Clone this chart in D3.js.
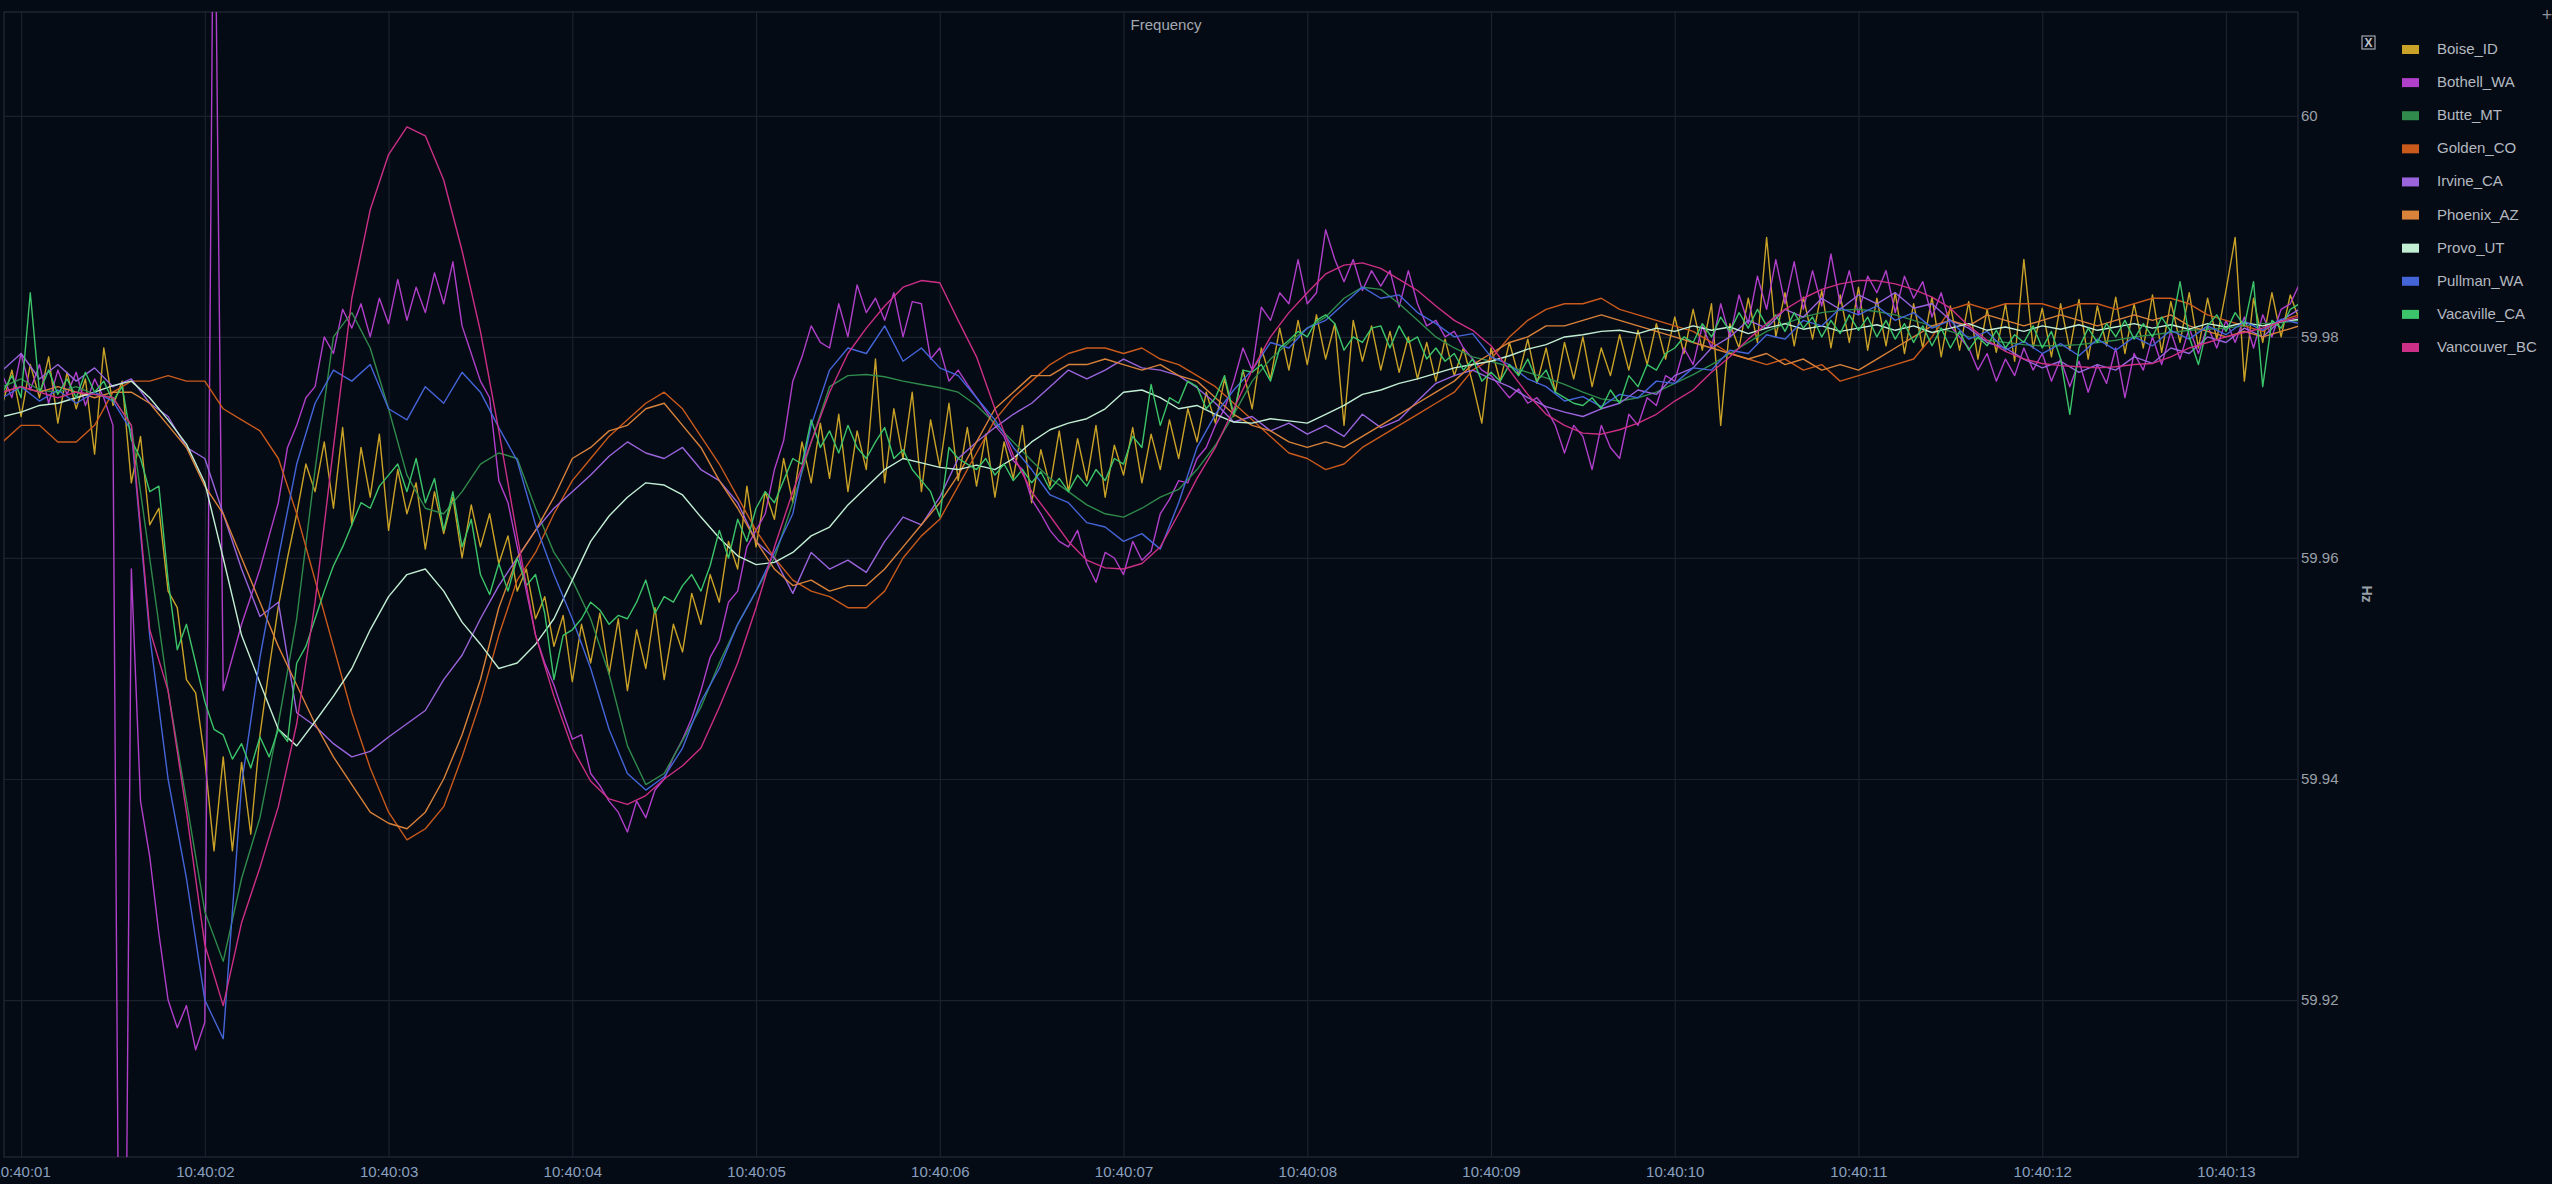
<!DOCTYPE html>
<html>
<head>
<meta charset="utf-8">
<title>Frequency</title>
<script src="https://cdn.jsdelivr.net/npm/d3@7"></script>
<style>
  html, body { margin: 0; padding: 0; background: #050b15; overflow: hidden; }
  svg { display: block; font-family: "Liberation Sans", Arial, sans-serif; }
</style>
</head>
<body>
<div id="chart"></div>
<script>
// seconds after 10:40:00 of the first sample, and the two sample spacings used
const startSec = 0.9
const coarseStep = 0.1
const fineStep = 0.05

const seriesNames = ['Boise_ID', 'Bothell_WA', 'Butte_MT', 'Golden_CO', 'Irvine_CA',
  'Phoenix_AZ', 'Provo_UT', 'Pullman_WA', 'Vacaville_CA', 'Vancouver_BC']
const seriesColors = ['#c9a227', '#b03fc9', '#2f8a4c', '#c95a1c', '#9a64dc',
  '#d9823a', '#c2efd4', '#4465d8', '#3cc46a', '#cc2f86']
const yTicks = [59.92, 59.94, 59.96, 59.98, 60]

// ---- 0.05 s samples ----
const boiseId = [
  59.9740, 59.9770, 59.9728, 59.9775, 59.9745, 59.9782, 59.9722, 59.9768, 59.9735, 59.9762,
  59.9694, 59.9790, 59.9738, 59.9760, 59.9668, 59.9710, 59.9630, 59.9645, 59.9570, 59.9555,
  59.9490, 59.9478, 59.9418, 59.9335, 59.9420, 59.9335, 59.9415, 59.9350, 59.9440, 59.9500,
  59.9556, 59.9600, 59.9640, 59.9685, 59.9660, 59.9705, 59.9645, 59.9718, 59.9630, 59.9700,
  59.9655, 59.9712, 59.9625, 59.9680, 59.9640, 59.9668, 59.9608, 59.9660, 59.9622, 59.9655,
  59.9600, 59.9648, 59.9610, 59.9640, 59.9595, 59.9620, 59.9570, 59.9590, 59.9545, 59.9565,
  59.9520, 59.9548, 59.9488, 59.9540, 59.9505, 59.9550, 59.9495, 59.9545, 59.9480, 59.9535,
  59.9500, 59.9555, 59.9490, 59.9540, 59.9515, 59.9568, 59.9540, 59.9585, 59.9560, 59.9615,
  59.9590, 59.9665, 59.9610, 59.9660, 59.9635, 59.9690, 59.9650, 59.9705, 59.9668, 59.9722,
  59.9672, 59.9730, 59.9660, 59.9715, 59.9680, 59.9780, 59.9668, 59.9735, 59.9690, 59.9750,
  59.9660, 59.9725, 59.9682, 59.9740, 59.9670, 59.9718, 59.9665, 59.9712, 59.9655, 59.9705,
  59.9672, 59.9720, 59.9650, 59.9698, 59.9665, 59.9715, 59.9660, 59.9708, 59.9670, 59.9720,
  59.9655, 59.9702, 59.9675, 59.9718, 59.9668, 59.9712, 59.9680, 59.9725, 59.9690, 59.9735,
  59.9705, 59.9750, 59.9722, 59.9762, 59.9728, 59.9770, 59.9735, 59.9790, 59.9762, 59.9808,
  59.9770, 59.9815, 59.9775, 59.9820, 59.9780, 59.9812, 59.9720, 59.9815, 59.9778, 59.9810,
  59.9770, 59.9805, 59.9768, 59.9800, 59.9762, 59.9795, 59.9760, 59.9798, 59.9765, 59.9790,
  59.9758, 59.9722, 59.9790, 59.9760, 59.9795, 59.9765, 59.9798, 59.9758, 59.9790, 59.9750,
  59.9795, 59.9762, 59.9800, 59.9755, 59.9790, 59.9765, 59.9802, 59.9770, 59.9806, 59.9775,
  59.9812, 59.9780, 59.9818, 59.9785, 59.9825, 59.9788, 59.9830, 59.9720, 59.9812, 59.9790,
  59.9835, 59.9795, 59.9890, 59.9800, 59.9840, 59.9792, 59.9836, 59.9798, 59.9842, 59.9790,
  59.9838, 59.9795, 59.9845, 59.9788, 59.9835, 59.9792, 59.9840, 59.9785, 59.9830, 59.9790,
  59.9836, 59.9782, 59.9828, 59.9788, 59.9832, 59.9780, 59.9825, 59.9786, 59.9830, 59.9778,
  59.9870, 59.9790, 59.9826, 59.9782, 59.9830, 59.9788, 59.9834, 59.9780, 59.9828, 59.9792,
  59.9836, 59.9785, 59.9830, 59.9790, 59.9838, 59.9786, 59.9832, 59.9795, 59.9840, 59.9790,
  59.9835, 59.9798, 59.9842, 59.9890, 59.9760, 59.9835, 59.9795, 59.9840, 59.9800, 59.9838,
  59.9815
]

const bothellWa = [
  59.9765, 59.9745, 59.9785, 59.9752, 59.9775, 59.9740, 59.9770, 59.9748, 59.9768, 59.9738,
  59.9762, 59.9745, 59.9720, 59.8500, 59.9590, 59.9380, 59.9330, 59.9260, 59.9200, 59.9175,
  59.9195, 59.9155, 59.9180, 60.0300, 59.9480, 59.9510, 59.9540, 59.9565, 59.9590, 59.9620,
  59.9650, 59.9700, 59.9720, 59.9745, 59.9755, 59.9800, 59.9785, 59.9825, 59.9808, 59.9830,
  59.9800, 59.9835, 59.9812, 59.9852, 59.9815, 59.9845, 59.9822, 59.9858, 59.9830, 59.9868,
  59.9810, 59.9785, 59.9760, 59.9745, 59.9670, 59.9650, 59.9610, 59.9570, 59.9530, 59.9505,
  59.9485, 59.9460, 59.9436, 59.9440, 59.9405, 59.9394, 59.9380, 59.9370, 59.9352, 59.9380,
  59.9365, 59.9390, 59.9400, 59.9420, 59.9436, 59.9455, 59.9480, 59.9510, 59.9525, 59.9560,
  59.9570, 59.9610, 59.9625, 59.9640, 59.9680, 59.9706, 59.9760, 59.9782, 59.9810, 59.9795,
  59.9790, 59.9830, 59.9800, 59.9847, 59.9822, 59.9835, 59.9815, 59.9840, 59.9800, 59.9832,
  59.9830, 59.9780, 59.9790, 59.9760, 59.9770, 59.9757, 59.9745, 59.9733, 59.9720, 59.9710,
  59.9688, 59.9680, 59.9653, 59.9640, 59.9625, 59.9615, 59.9610, 59.9625, 59.9595, 59.9578,
  59.9605, 59.9600, 59.9585, 59.9615, 59.9598, 59.9606, 59.9640, 59.9653, 59.9670, 59.9668,
  59.9690, 59.9700, 59.9720, 59.9735, 59.9760, 59.9790, 59.9770, 59.9827, 59.9815, 59.9840,
  59.9830, 59.9870, 59.9830, 59.9840, 59.9897, 59.9870, 59.9850, 59.9870, 59.9842, 59.9860,
  59.9846, 59.9860, 59.9827, 59.9860, 59.9830, 59.9810, 59.9815, 59.9800, 59.9805, 59.9790,
  59.9780, 59.9770, 59.9765, 59.9755, 59.9745, 59.9753, 59.9740, 59.9745, 59.9735, 59.9720,
  59.9695, 59.9720, 59.9710, 59.9680, 59.9720, 59.9700, 59.9690, 59.9730, 59.9720, 59.9745,
  59.9738, 59.9765, 59.9760, 59.9790, 59.9775, 59.9810, 59.9790, 59.9830, 59.9800, 59.9838,
  59.9812, 59.9855, 59.9825, 59.9870, 59.9830, 59.9868, 59.9825, 59.9860, 59.9828, 59.9875,
  59.9830, 59.9860, 59.9820, 59.9855, 59.9840, 59.9860, 59.9822, 59.9855, 59.9835, 59.9850,
  59.9818, 59.9840, 59.9810, 59.9800, 59.9790, 59.9770, 59.9785, 59.9760, 59.9780, 59.9765,
  59.9790, 59.9770, 59.9785, 59.9760, 59.9780, 59.9755, 59.9778, 59.9750, 59.9775, 59.9758,
  59.9790, 59.9745, 59.9785, 59.9770, 59.9800, 59.9775, 59.9805, 59.9780, 59.9808, 59.9785,
  59.9810, 59.9790, 59.9815, 59.9795, 59.9818, 59.9790, 59.9820, 59.9800, 59.9825, 59.9830,
  59.9848
]

const vacavilleCa = [
  59.9750, 59.9765, 59.9745, 59.9840, 59.9750, 59.9770, 59.9748, 59.9762, 59.9745, 59.9768,
  59.9750, 59.9760, 59.9742, 59.9755, 59.9707, 59.9690, 59.9660, 59.9665, 59.9580, 59.9517,
  59.9540, 59.9505, 59.9470, 59.9445, 59.9440, 59.9418, 59.9432, 59.9410, 59.9438, 59.9420,
  59.9445, 59.9434, 59.9505, 59.9520, 59.9545, 59.9570, 59.9593, 59.9610, 59.9630, 59.9650,
  59.9645, 59.9665, 59.9675, 59.9685, 59.9660, 59.9690, 59.9650, 59.9672, 59.9625, 59.9660,
  59.9610, 59.9635, 59.9585, 59.9567, 59.9595, 59.9570, 59.9600, 59.9575, 59.9585, 59.9550,
  59.9490, 59.9530, 59.9535, 59.9545, 59.9560, 59.9553, 59.9540, 59.9548, 59.9545, 59.9560,
  59.9580, 59.9550, 59.9565, 59.9560, 59.9575, 59.9585, 59.9570, 59.9593, 59.9625, 59.9600,
  59.9635, 59.9615, 59.9645, 59.9660, 59.9650, 59.9670, 59.9690, 59.9685, 59.9725, 59.9700,
  59.9715, 59.9695, 59.9720, 59.9700, 59.9690, 59.9705, 59.9718, 59.9690, 59.9698, 59.9680,
  59.9670, 59.9660, 59.9637, 59.9700, 59.9690, 59.9685, 59.9680, 59.9690, 59.9675, 59.9685,
  59.9670, 59.9680, 59.9668, 59.9678, 59.9662, 59.9672, 59.9660, 59.9675, 59.9665, 59.9680,
  59.9670, 59.9690, 59.9685, 59.9710, 59.9700, 59.9757, 59.9720, 59.9745, 59.9740, 59.9760,
  59.9755, 59.9735, 59.9745, 59.9765, 59.9730, 59.9770, 59.9768, 59.9775, 59.9760, 59.9790,
  59.9797, 59.9805, 59.9800, 59.9815, 59.9820, 59.9812, 59.9788, 59.9800, 59.9795, 59.9808,
  59.9810, 59.9790, 59.9810, 59.9795, 59.9800, 59.9780, 59.9790, 59.9778, 59.9785, 59.9770,
  59.9780, 59.9760, 59.9768, 59.9760, 59.9775, 59.9765, 59.9780, 59.9760, 59.9770, 59.9750,
  59.9745, 59.9740, 59.9738, 59.9745, 59.9735, 59.9752, 59.9740, 59.9765, 59.9755, 59.9775,
  59.9770, 59.9785, 59.9790, 59.9800, 59.9795, 59.9812, 59.9800, 59.9818, 59.9805, 59.9822,
  59.9808, 59.9825, 59.9810, 59.9820, 59.9805, 59.9822, 59.9808, 59.9818, 59.9800, 59.9815,
  59.9803, 59.9820, 59.9806, 59.9818, 59.9800, 59.9815, 59.9798, 59.9812, 59.9795, 59.9810,
  59.9792, 59.9808, 59.9790, 59.9805, 59.9788, 59.9800, 59.9792, 59.9806, 59.9790, 59.9802,
  59.9795, 59.9810, 59.9790, 59.9805, 59.9780, 59.9730, 59.9790, 59.9808, 59.9795, 59.9812,
  59.9800, 59.9815, 59.9798, 59.9812, 59.9800, 59.9818, 59.9805, 59.9850, 59.9800, 59.9775,
  59.9810, 59.9820, 59.9805, 59.9822, 59.9810, 59.9850, 59.9755, 59.9815, 59.9808, 59.9825,
  59.9830
]

// ---- 0.1 s samples ----
const butteMt = [
  59.9755, 59.9762, 59.9752, 59.9750, 59.9755, 59.9748, 59.9745, 59.9720, 59.9600, 59.9480,
  59.9380, 59.9280, 59.9235, 59.9310, 59.9365, 59.9450, 59.9545, 59.9680, 59.9800, 59.9822,
  59.9790, 59.9735, 59.9675, 59.9645, 59.9640, 59.9660, 59.9685, 59.9695, 59.9690, 59.9645,
  59.9605, 59.9580, 59.9545, 59.9495, 59.9430, 59.9395, 59.9405, 59.9435, 59.9465, 59.9505,
  59.9540, 59.9570, 59.9600, 59.9650, 59.9705, 59.9755, 59.9765, 59.9766, 59.9764, 59.9760,
  59.9757, 59.9754, 59.9750, 59.9738, 59.9722, 59.9705, 59.9688, 59.9672, 59.9660, 59.9648,
  59.9640, 59.9637, 59.9645, 59.9655, 59.9662, 59.9680, 59.9702, 59.9730, 59.9760, 59.9780,
  59.9795, 59.9808, 59.9818, 59.9835, 59.9845, 59.9843, 59.9830, 59.9815, 59.9800, 59.9790,
  59.9782, 59.9778, 59.9773, 59.9768, 59.9763, 59.9757, 59.9750, 59.9744, 59.9742, 59.9745,
  59.9750, 59.9758, 59.9766, 59.9775, 59.9785, 59.9795, 59.9805, 59.9812, 59.9818, 59.9822,
  59.9824, 59.9825, 59.9823, 59.9820, 59.9815, 59.9810, 59.9805, 59.9800, 59.9797, 59.9795,
  59.9793, 59.9792, 59.9792, 59.9793, 59.9795, 59.9797, 59.9800, 59.9802, 59.9804, 59.9806,
  59.9807, 59.9808, 59.9810, 59.9812, 59.9813, 59.9815
]

const goldenCo = [
  59.9705, 59.9720, 59.9720, 59.9705, 59.9705, 59.9720, 59.9750, 59.9760, 59.9760, 59.9765,
  59.9760, 59.9760, 59.9735, 59.9725, 59.9715, 59.9690, 59.9640, 59.9580, 59.9520, 59.9460,
  59.9410, 59.9370, 59.9345, 59.9355, 59.9375, 59.9420, 59.9470, 59.9530, 59.9580, 59.9605,
  59.9640, 59.9670, 59.9690, 59.9710, 59.9725, 59.9740, 59.9750, 59.9735, 59.9710, 59.9685,
  59.9655, 59.9625, 59.9600, 59.9580, 59.9570, 59.9565, 59.9555, 59.9555, 59.9570, 59.9600,
  59.9620, 59.9635, 59.9665, 59.9695, 59.9725, 59.9745, 59.9760, 59.9775, 59.9785, 59.9790,
  59.9790, 59.9785, 59.9790, 59.9780, 59.9775, 59.9765, 59.9755, 59.9740, 59.9725, 59.9710,
  59.9695, 59.9690, 59.9680, 59.9685, 59.9700, 59.9710, 59.9720, 59.9730, 59.9740, 59.9750,
  59.9770, 59.9780, 59.9800, 59.9815, 59.9825, 59.9830, 59.9830, 59.9835, 59.9825, 59.9820,
  59.9815, 59.9810, 59.9805, 59.9795, 59.9785, 59.9780, 59.9775, 59.9780, 59.9770, 59.9775,
  59.9760, 59.9765, 59.9770, 59.9775, 59.9780, 59.9800, 59.9825, 59.9830, 59.9825, 59.9830,
  59.9830, 59.9830, 59.9825, 59.9830, 59.9830, 59.9825, 59.9830, 59.9835, 59.9835, 59.9830,
  59.9820, 59.9815, 59.9810, 59.9805, 59.9815, 59.9820
]

const irvineCa = [
  59.9770, 59.9785, 59.9762, 59.9775, 59.9760, 59.9772, 59.9755, 59.9762, 59.9740, 59.9728,
  59.9700, 59.9690, 59.9640, 59.9590, 59.9547, 59.9560, 59.9460, 59.9448, 59.9432, 59.9420,
  59.9425, 59.9438, 59.9450, 59.9462, 59.9490, 59.9512, 59.9545, 59.9575, 59.9600, 59.9625,
  59.9645, 59.9660, 59.9675, 59.9692, 59.9705, 59.9695, 59.9690, 59.9700, 59.9680, 59.9670,
  59.9650, 59.9615, 59.9600, 59.9568, 59.9605, 59.9590, 59.9598, 59.9587, 59.9615, 59.9637,
  59.9630, 59.9655, 59.9690, 59.9705, 59.9718, 59.9730, 59.9740, 59.9755, 59.9770, 59.9762,
  59.9770, 59.9780, 59.9772, 59.9770, 59.9765, 59.9754, 59.9740, 59.9723, 59.9728, 59.9715,
  59.9722, 59.9712, 59.9720, 59.9710, 59.9730, 59.9718, 59.9725, 59.9742, 59.9758, 59.9765,
  59.9770, 59.9762, 59.9755, 59.9745, 59.9737, 59.9732, 59.9728, 59.9735, 59.9740, 59.9752,
  59.9748, 59.9765, 59.9772, 59.9790, 59.9800, 59.9815, 59.9808, 59.9825, 59.9818, 59.9835,
  59.9825, 59.9838, 59.9830, 59.9840, 59.9826, 59.9830, 59.9815, 59.9808, 59.9795, 59.9790,
  59.9780, 59.9772, 59.9778, 59.9768, 59.9775, 59.9770, 59.9782, 59.9776, 59.9790, 59.9785,
  59.9800, 59.9795, 59.9808, 59.9800, 59.9815, 59.9825
]

const phoenixAz = [
  59.9750, 59.9755, 59.9750, 59.9755, 59.9750, 59.9745, 59.9750, 59.9750, 59.9740, 59.9720,
  59.9700, 59.9665, 59.9640, 59.9600, 59.9560, 59.9520, 59.9485, 59.9450, 59.9420, 59.9395,
  59.9370, 59.9360, 59.9355, 59.9370, 59.9400, 59.9440, 59.9490, 59.9555, 59.9600, 59.9625,
  59.9655, 59.9690, 59.9700, 59.9715, 59.9720, 59.9735, 59.9740, 59.9720, 59.9700, 59.9670,
  59.9645, 59.9615, 59.9590, 59.9575, 59.9580, 59.9570, 59.9575, 59.9575, 59.9590, 59.9610,
  59.9630, 59.9650, 59.9675, 59.9705, 59.9735, 59.9750, 59.9765, 59.9765, 59.9775, 59.9775,
  59.9780, 59.9775, 59.9770, 59.9775, 59.9765, 59.9760, 59.9745, 59.9730, 59.9720, 59.9715,
  59.9705, 59.9700, 59.9705, 59.9700, 59.9710, 59.9720, 59.9730, 59.9740, 59.9750, 59.9760,
  59.9775, 59.9785, 59.9795, 59.9800, 59.9810, 59.9810, 59.9815, 59.9820, 59.9815, 59.9810,
  59.9805, 59.9800, 59.9795, 59.9790, 59.9785, 59.9780, 59.9785, 59.9775, 59.9780, 59.9770,
  59.9775, 59.9770, 59.9780, 59.9790, 59.9800, 59.9810, 59.9815, 59.9810, 59.9820, 59.9815,
  59.9810, 59.9815, 59.9820, 59.9815, 59.9810, 59.9815, 59.9820, 59.9815, 59.9820, 59.9810,
  59.9805, 59.9800, 59.9805, 59.9800, 59.9805, 59.9810
]

const provoUt = [
  59.9728, 59.9732, 59.9738, 59.9740, 59.9745, 59.9750, 59.9756, 59.9760, 59.9745, 59.9725,
  59.9703, 59.9668, 59.9600, 59.9530, 59.9487, 59.9445, 59.9430, 59.9452, 59.9475, 59.9500,
  59.9535, 59.9565, 59.9585, 59.9590, 59.9570, 59.9542, 59.9522, 59.9500, 59.9505, 59.9522,
  59.9545, 59.9580, 59.9615, 59.9638, 59.9655, 59.9668, 59.9666, 59.9657, 59.9637, 59.9618,
  59.9602, 59.9594, 59.9596, 59.9605, 59.9620, 59.9628, 59.9648, 59.9664, 59.9680, 59.9690,
  59.9686, 59.9682, 59.9680, 59.9684, 59.9680, 59.9690, 59.9705, 59.9716, 59.9722, 59.9726,
  59.9735, 59.9750, 59.9752, 59.9745, 59.9735, 59.9738, 59.9730, 59.9723, 59.9722, 59.9726,
  59.9724, 59.9722, 59.9730, 59.9738, 59.9748, 59.9752, 59.9758, 59.9762, 59.9767, 59.9772,
  59.9775, 59.9778, 59.9783, 59.9789, 59.9793, 59.9800, 59.9802, 59.9805, 59.9806, 59.9803,
  59.9808, 59.9805, 59.9810, 59.9806, 59.9809, 59.9803, 59.9808, 59.9812, 59.9807, 59.9810,
  59.9805, 59.9808, 59.9811, 59.9806, 59.9810, 59.9804, 59.9808, 59.9812, 59.9806, 59.9809,
  59.9805, 59.9810, 59.9807, 59.9811, 59.9806, 59.9809, 59.9812, 59.9808, 59.9811, 59.9807,
  59.9812, 59.9809, 59.9813, 59.9810, 59.9814, 59.9816
]

const pullmanWa = [
  59.9745, 59.9755, 59.9742, 59.9752, 59.9740, 59.9750, 59.9742, 59.9715, 59.9530, 59.9400,
  59.9310, 59.9200, 59.9165, 59.9395, 59.9510, 59.9600, 59.9685, 59.9740, 59.9770, 59.9760,
  59.9775, 59.9735, 59.9725, 59.9755, 59.9740, 59.9768, 59.9750, 59.9718, 59.9688, 59.9630,
  59.9585, 59.9545, 59.9500, 59.9445, 59.9405, 59.9390, 59.9402, 59.9428, 59.9470, 59.9500,
  59.9540, 59.9570, 59.9605, 59.9640, 59.9720, 59.9770, 59.9790, 59.9785, 59.9810, 59.9778,
  59.9790, 59.9772, 59.9765, 59.9745, 59.9725, 59.9700, 59.9680, 59.9657, 59.9650, 59.9632,
  59.9628, 59.9615, 59.9622, 59.9608, 59.9650, 59.9700, 59.9730, 59.9752, 59.9770, 59.9795,
  59.9790, 59.9808, 59.9815, 59.9830, 59.9845, 59.9835, 59.9838, 59.9822, 59.9812, 59.9800,
  59.9803, 59.9782, 59.9775, 59.9762, 59.9755, 59.9742, 59.9746, 59.9737, 59.9748, 59.9745,
  59.9760, 59.9758, 59.9772, 59.9770, 59.9788, 59.9785, 59.9802, 59.9798, 59.9815, 59.9810,
  59.9826, 59.9820, 59.9828, 59.9815, 59.9822, 59.9808, 59.9815, 59.9798, 59.9805, 59.9788,
  59.9796, 59.9785, 59.9794, 59.9783, 59.9798, 59.9788, 59.9800, 59.9792, 59.9806, 59.9798,
  59.9810, 59.9802, 59.9814, 59.9806, 59.9816, 59.9812
]

const vancouverBc = [
  59.9750, 59.9755, 59.9750, 59.9745, 59.9750, 59.9748, 59.9745, 59.9720, 59.9535, 59.9480,
  59.9370, 59.9250, 59.9195, 59.9270, 59.9320, 59.9375, 59.9450, 59.9560, 59.9700, 59.9835,
  59.9915, 59.9965, 59.9990, 59.9982, 59.9942, 59.9878, 59.9805, 59.9715, 59.9620, 59.9530,
  59.9475, 59.9428, 59.9398, 59.9382, 59.9377, 59.9385, 59.9400, 59.9412, 59.9428, 59.9465,
  59.9505, 59.9555, 59.9610, 59.9660, 59.9705, 59.9750, 59.9785, 59.9808, 59.9828, 59.9845,
  59.9851, 59.9849, 59.9815, 59.9782, 59.9735, 59.9693, 59.9660, 59.9638, 59.9615, 59.9598,
  59.9591, 59.9590, 59.9595, 59.9610, 59.9640, 59.9672, 59.9700, 59.9735, 59.9770, 59.9800,
  59.9822, 59.9840, 59.9857, 59.9865, 59.9867, 59.9862, 59.9852, 59.9842, 59.9828, 59.9815,
  59.9806, 59.9792, 59.9770, 59.9748, 59.9730, 59.9720, 59.9713, 59.9712, 59.9716, 59.9722,
  59.9730, 59.9742, 59.9752, 59.9768, 59.9782, 59.9798, 59.9812, 59.9825, 59.9835, 59.9843,
  59.9848, 59.9851, 59.9851, 59.9848, 59.9843, 59.9836, 59.9826, 59.9810, 59.9797, 59.9787,
  59.9780, 59.9776, 59.9774, 59.9773, 59.9772, 59.9773, 59.9775, 59.9776, 59.9782, 59.9790,
  59.9795, 59.9800, 59.9804, 59.9808, 59.9814, 59.9818
]

const seriesValues = [boiseId, bothellWa, butteMt, goldenCo, irvineCa,
  phoenixAz, provoUt, pullmanWa, vacavilleCa, vancouverBc]
const seriesSteps = [fineStep, fineStep, coarseStep, coarseStep, coarseStep,
  coarseStep, coarseStep, coarseStep, fineStep, coarseStep]

const width = 2552
const height = 1184
const plot = { left: 4, right: 2298, top: 12, bottom: 1157 }

const base = new Date(2020, 0, 1, 10, 40, 0)
const at = s => new Date(base.getTime() + s * 1000)

const x = d3.scaleTime()
  .domain([at(0.907), at(13.392)])
  .range([plot.left, plot.right])
const y = d3.scaleLinear()
  .domain([59.9058, 60.0094])
  .range([plot.bottom, plot.top])

const svg = d3.select('#chart')
  .append('svg')
  .attr('width', width)
  .attr('height', height)

svg.append('rect')
  .attr('width', width)
  .attr('height', height)
  .attr('fill', '#050b15')

svg.append('defs')
  .append('clipPath')
  .attr('id', 'plot-clip')
  .append('rect')
  .attr('x', plot.left)
  .attr('y', plot.top)
  .attr('width', plot.right - plot.left)
  .attr('height', plot.bottom - plot.top)

// grid + axes
const xAxis = svg.append('g')
  .attr('transform', `translate(0,${plot.bottom})`)
  .call(d3.axisBottom(x)
    .ticks(d3.timeSecond.every(1))
    .tickFormat(d3.timeFormat('%H:%M:%S'))
    .tickSize(-(plot.bottom - plot.top))
    .tickPadding(9))
xAxis.select('.domain').remove()
xAxis.selectAll('line').attr('stroke', '#1b222d').attr('stroke-width', 1.2)
xAxis.selectAll('text')
  .attr('fill', '#8aa0bf')
  .style('font-size', '15px')

const yAxis = svg.append('g')
  .attr('transform', `translate(${plot.right},0)`)
  .call(d3.axisRight(y)
    .tickValues(yTicks)
    .tickFormat(d3.format('.6~r'))
    .tickSize(-(plot.right - plot.left))
    .tickPadding(3))
yAxis.select('.domain').remove()
yAxis.selectAll('line').attr('stroke', '#1b222d').attr('stroke-width', 1.2)
yAxis.selectAll('text')
  .attr('fill', '#9aa0a8')
  .style('font-size', '15px')

svg.append('rect')
  .attr('x', plot.left)
  .attr('y', plot.top)
  .attr('width', plot.right - plot.left)
  .attr('height', plot.bottom - plot.top)
  .attr('fill', 'none')
  .attr('stroke', '#242b36')
  .attr('stroke-width', 1.2)

// lines
const lines = svg.append('g').attr('clip-path', 'url(#plot-clip)')
seriesNames.forEach((name, i) => {
  const step = seriesSteps[i]
  const points = seriesValues[i].map((v, k) => ({ t: at(startSec + k * step), v }))
  const line = d3.line()
    .x(d => x(d.t))
    .y(d => y(d.v))
  lines.append('path')
    .datum(points)
    .attr('d', line)
    .attr('fill', 'none')
    .attr('stroke', seriesColors[i])
    .attr('stroke-width', 1.4)
    .attr('stroke-linejoin', 'round')
})

// title
svg.append('text')
  .attr('x', 1166)
  .attr('y', 30)
  .attr('text-anchor', 'middle')
  .attr('fill', '#a3a8b0')
  .style('font-size', '15px')
  .text('Frequency')

// axis name
svg.append('text')
  .attr('transform', 'translate(2362,594) rotate(90)')
  .attr('text-anchor', 'middle')
  .attr('fill', '#9aa0a8')
  .style('font-size', '14px')
  .style('font-weight', 'bold')
  .text('Hz')

// legend
const legend = svg.append('g')
const legendRow = d3.scalePoint().domain(seriesNames).range([49, 347])
legend.selectAll('rect.swatch')
  .data(seriesNames)
  .enter()
  .append('rect')
  .attr('class', 'swatch')
  .attr('x', 2402)
  .attr('y', d => legendRow(d) - 4)
  .attr('width', 17)
  .attr('height', 9)
  .attr('fill', (d, i) => seriesColors[i])
legend.selectAll('text')
  .data(seriesNames)
  .enter()
  .append('text')
  .attr('x', 2437)
  .attr('y', d => legendRow(d) + 5)
  .attr('fill', '#b4b9c0')
  .style('font-size', '15px')
  .text(d => d)

// close box and corner mark
svg.append('rect')
  .attr('x', 2362)
  .attr('y', 36)
  .attr('width', 13)
  .attr('height', 13)
  .attr('fill', 'none')
  .attr('stroke', '#a0a6ae')
  .attr('stroke-width', 1.2)
svg.append('text')
  .attr('x', 2368.5)
  .attr('y', 47)
  .attr('text-anchor', 'middle')
  .attr('fill', '#c0c4ca')
  .style('font-size', '12px')
  .style('font-weight', 'bold')
  .text('X')
svg.append('text')
  .attr('x', 2547)
  .attr('y', 21)
  .attr('text-anchor', 'middle')
  .attr('fill', '#8e949c')
  .style('font-size', '18px')
  .text('+')
</script>
</body>
</html>
